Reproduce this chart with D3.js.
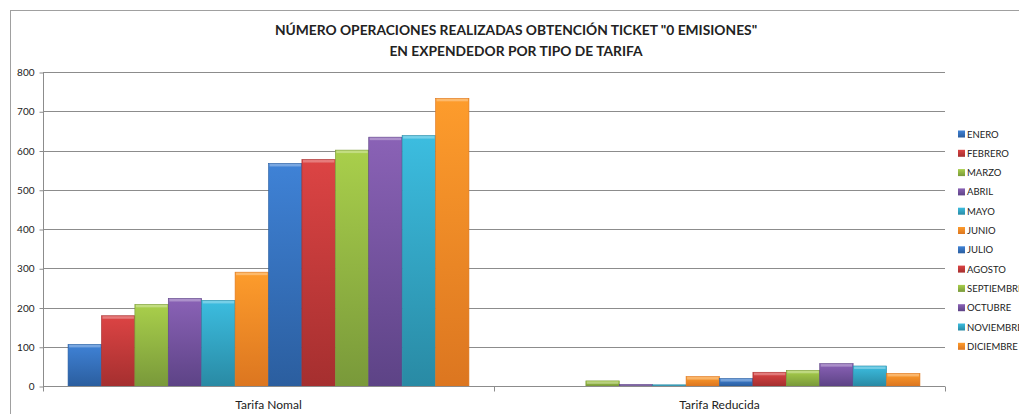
<!DOCTYPE html>
<html>
<head>
<meta charset="utf-8">
<script src="https://cdnjs.cloudflare.com/ajax/libs/d3/7.8.5/d3.min.js"></script>
<style>
  body { margin: 0; background: #fff; }
  svg { font-family: Lato, "Open Sans", sans-serif; }
</style>
</head>
<body>
<div id="chart"></div>
<script>
var categories = ["Tarifa Nomal", "Tarifa Reducida"];
var months = ["ENERO", "FEBRERO", "MARZO", "ABRIL", "MAYO", "JUNIO",
    "JULIO", "AGOSTO", "SEPTIEMBRE", "OCTUBRE", "NOVIEMBRE", "DICIEMBRE"];
var tarifaNomal = [106, 179, 208, 223, 218, 290, 567, 577, 601, 634, 638, 733];
var tarifaReducida = [0, 0, 13, 4, 3, 24, 19, 35, 40, 57, 51, 32];
var yTicks = [0, 100, 200, 300, 400, 500, 600, 700, 800];
var titleLines = ["NÚMERO OPERACIONES REALIZADAS OBTENCIÓN TICKET \"0 EMISIONES\"",
    "EN EXPENDEDOR POR TIPO DE TARIFA"];

// top / bottom shades of each month's bar
var colorsTop = ["#3f82d6", "#dc4444", "#a9cf4b", "#8a62b6", "#3cbde0", "#fd9c2c",
    "#3f82d6", "#dc4444", "#a9cf4b", "#8a62b6", "#3cbde0", "#fd9c2c"];
var colorsBottom = ["#2b5e9f", "#a52f2f", "#79993a", "#5d4386", "#298aa4", "#dc7620",
    "#2b5e9f", "#a52f2f", "#79993a", "#5d4386", "#298aa4", "#dc7620"];

var width = 1019,
    height = 414;

var margin = {left: 43, right: 74, top: 72, bottom: 28};

var svg = d3.select("#chart")
    .append("svg")
    .attr("width", width)
    .attr("height", height);

var defs = svg.append("defs");
months.forEach(function (m, i) {
    var g = defs.append("linearGradient")
        .attr("id", "grad" + i)
        .attr("x1", 0).attr("y1", 0).attr("x2", 0).attr("y2", 1);
    g.append("stop").attr("offset", "0%").attr("stop-color", colorsTop[i]);
    g.append("stop").attr("offset", "100%").attr("stop-color", colorsBottom[i]);
});

// chart border
svg.append("rect")
    .attr("x", 10.5).attr("y", 10.5)
    .attr("width", 1040).attr("height", 420)
    .attr("fill", "none")
    .attr("stroke", "#a0a0a0");

var data = categories.map(function (c, ci) {
    var vals = ci === 0 ? tarifaNomal : tarifaReducida;
    return {cat: c, values: months.map(function (m, i) { return {month: m, i: i, value: vals[i]}; })};
});

var x0 = d3.scaleBand()
    .domain(categories)
    .range([margin.left, width - margin.right])
    .paddingInner(0)
    .paddingOuter(0);

// gap width 150%: 0.75 bar width on each side of the group
var x1 = d3.scaleBand()
    .domain(months)
    .range([0, x0.bandwidth()])
    .paddingInner(0)
    .paddingOuter(0.75);

var y = d3.scaleLinear()
    .domain([0, 800])
    .range([height - margin.bottom, margin.top]);

// gridlines
svg.append("g")
    .selectAll("line")
    .data(yTicks.slice(1))
    .enter().append("line")
    .attr("x1", margin.left)
    .attr("x2", width - margin.right)
    .attr("y1", function (d) { return Math.round(y(d)) + 0.5; })
    .attr("y2", function (d) { return Math.round(y(d)) + 0.5; })
    .attr("stroke", "#8c8c8c");

// y axis
var yAxis = svg.append("g")
    .attr("transform", "translate(" + (margin.left + 0.5) + ",0.5)")
    .call(d3.axisLeft(y).tickValues(yTicks).tickSize(4).tickPadding(5));
yAxis.select(".domain").attr("stroke", "#8c8c8c").attr("d", "M0," + Math.round(y(800)) + "V" + Math.round(y(0)));
yAxis.selectAll(".tick line").attr("stroke", "#8c8c8c");
yAxis.selectAll(".tick text")
    .attr("font-size", "10px")
    .attr("fill", "#222")
    .attr("font-family", "Lato, sans-serif");

// bars
var groups = svg.append("g")
    .selectAll(".grp")
    .data(data)
    .enter().append("g")
    .attr("class", "grp")
    .attr("transform", function (d) { return "translate(" + x0(d.cat) + ",0)"; });

groups.selectAll(".bar")
    .data(function (d) { return d.values.filter(function (v) { return v.value > 0; }); })
    .enter().append("rect")
    .attr("class", "bar")
    .attr("x", function (d) { return x1(d.month); })
    .attr("width", x1.bandwidth())
    .attr("y", function (d) { return y(d.value); })
    .attr("height", function (d) { return y(0) - y(d.value); })
    .attr("fill", function (d) { return "url(#grad" + d.i + ")"; })
    .attr("stroke", function (d) { return colorsBottom[d.i]; })
    .attr("stroke-width", 0.6);

// light top bevel
groups.selectAll(".bevel")
    .data(function (d) { return d.values.filter(function (v) { return v.value > 0; }); })
    .enter().append("rect")
    .attr("class", "bevel")
    .attr("x", function (d) { return x1(d.month) + 1; })
    .attr("width", x1.bandwidth() - 2)
    .attr("y", function (d) { return y(d.value) + 0.5; })
    .attr("height", function (d) { return Math.min(2.5, y(0) - y(d.value) - 1); })
    .attr("fill", "#fff")
    .attr("opacity", 0.3);

// x axis
var xAxis = svg.append("g")
    .attr("transform", "translate(0," + (Math.round(y(0)) + 0.5) + ")");
xAxis.append("line")
    .attr("x1", margin.left).attr("x2", width - margin.right)
    .attr("stroke", "#8c8c8c");
xAxis.selectAll(".xt")
    .data([margin.left, x0(categories[1]), width - margin.right])
    .enter().append("line")
    .attr("class", "xt")
    .attr("x1", function (d) { return Math.round(d) + 0.5; })
    .attr("x2", function (d) { return Math.round(d) + 0.5; })
    .attr("y1", 0).attr("y2", 5)
    .attr("stroke", "#8c8c8c");
xAxis.selectAll(".xl")
    .data(categories)
    .enter().append("text")
    .attr("class", "xl")
    .attr("x", function (d) { return x0(d) + x0.bandwidth() / 2; })
    .attr("y", 22)
    .attr("text-anchor", "middle")
    .attr("font-size", "12px")
    .attr("fill", "#222")
    .text(function (d) { return d; });

// title
svg.append("g")
    .selectAll("text")
    .data(titleLines)
    .enter().append("text")
    .attr("x", 516)
    .attr("y", function (d, i) { return 35 + i * 21; })
    .attr("text-anchor", "middle")
    .attr("font-size", "13.8px")
    .attr("font-weight", "bold")
    .attr("fill", "#222")
    .text(function (d) { return d; });

// legend
var legend = svg.append("g")
    .selectAll(".leg")
    .data(months)
    .enter().append("g")
    .attr("class", "leg")
    .attr("transform", function (d, i) { return "translate(958," + (134 + i * 19.3) + ")"; });
legend.append("rect")
    .attr("x", 0).attr("y", -3.5)
    .attr("width", 7).attr("height", 7)
    .attr("fill", function (d, i) { return "url(#grad" + i + ")"; });
legend.append("text")
    .attr("x", 9)
    .attr("y", 3.5)
    .attr("font-size", "9.5px")
    .attr("fill", "#222")
    .text(function (d) { return d; });
</script>
</body>
</html>
